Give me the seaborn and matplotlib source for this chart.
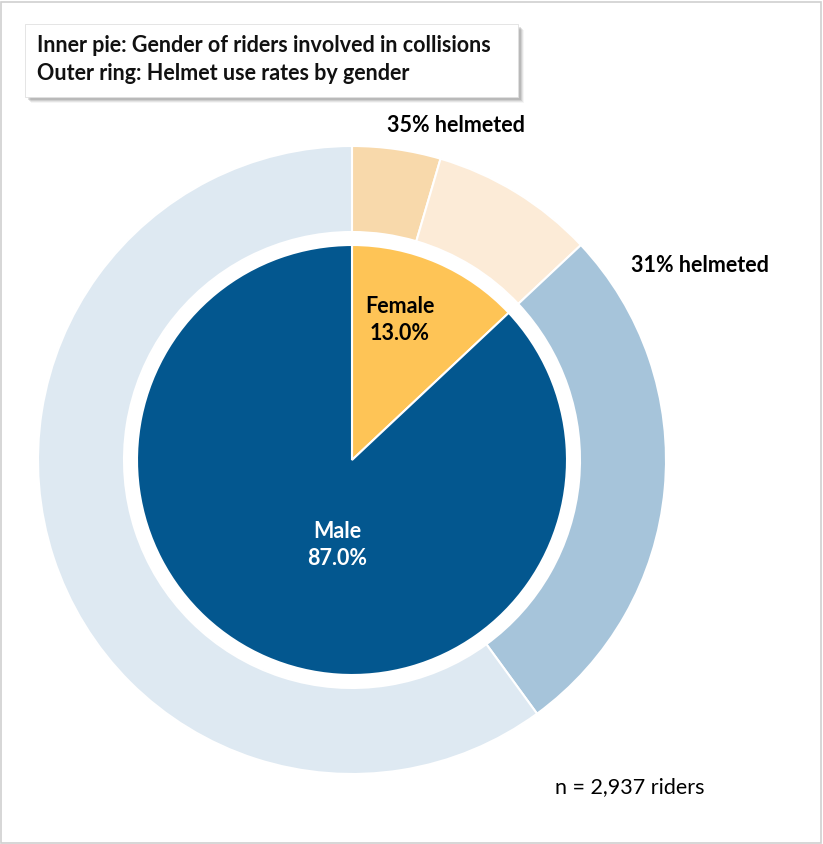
import matplotlib
matplotlib.use("Agg")
import matplotlib.pyplot as plt
import matplotlib.patches as mpatches
import seaborn as sns

# dane
genders = ["Female", "Male"]
gender_share = [13.0, 87.0]      # % of riders in collisions
helmet_rate = [35, 31]           # % helmeted within each gender
n_riders = 2937

inner_colors = ["#FEC456", "#03578F"]
outer_colors = ["#F8D9AB", "#FCEBD7", "#A6C4DA", "#DEE9F2"]

# outer ring: helmeted / not helmeted for each gender
outer_vals = []
for share, rate in zip(gender_share, helmet_rate):
    outer_vals.append(share * rate / 100)
    outer_vals.append(share * (100 - rate) / 100)

sns.set_theme(style="white")
plt.rcParams["font.family"] = ["Lato", "DejaVu Sans"]
fs = 15.5

fig = plt.figure(figsize=(8.23, 8.44), dpi=100)
ax = fig.add_axes([0, 0, 1, 1])
ax.axis("off")

cx, cy = 352, 844 - 460

# outer ring
ax.pie(outer_vals, colors=outer_colors, radius=314, center=(cx, cy),
       startangle=90, counterclock=False,
       wedgeprops=dict(width=314 - 228, edgecolor="white", linewidth=1.5))

# inner pie
ax.pie(gender_share, colors=inner_colors, radius=215, center=(cx, cy),
       startangle=90, counterclock=False,
       wedgeprops=dict(edgecolor="white", linewidth=1.5))
ax.set_xlim(0, 823)
ax.set_ylim(0, 844)
ax.set_aspect("equal")

# labels
ax.text(400, 844 - 320, f"{genders[0]}\n{gender_share[0]:.1f}%", ha="center", va="center",
        fontsize=fs, fontweight="bold", color="black", linespacing=1.3)
ax.text(337, 844 - 545, f"{genders[1]}\n{gender_share[1]:.1f}%", ha="center", va="center",
        fontsize=fs, fontweight="bold", color="white", linespacing=1.3)
ax.text(456, 844 - 126, f"{helmet_rate[0]}% helmeted", ha="center", va="center",
        fontsize=fs, fontweight="bold", color="black")
ax.text(700, 844 - 266, f"{helmet_rate[1]}% helmeted", ha="center", va="center",
        fontsize=fs, fontweight="bold", color="black")
ax.text(630, 844 - 787, f"n = {n_riders:,} riders", ha="center", va="center",
        fontsize=fs, color="black")

# legend box with shadow
bx0, by0, bx1, by1 = 25, 24, 518, 97
for off, a in [(6, 0.06), (5, 0.10), (4, 0.14), (3, 0.18)]:
    ax.add_patch(mpatches.Rectangle((bx0 + off, 844 - by1 - off), bx1 - bx0, by1 - by0,
                                    facecolor="#555555", alpha=a, edgecolor="none", zorder=5))
ax.add_patch(mpatches.Rectangle((bx0, 844 - by1), bx1 - bx0, by1 - by0,
                                facecolor="white", edgecolor="#e0e0e0", linewidth=0.6, zorder=6))
ax.text(37, 844 - 46, "Inner pie: Gender of riders involved in collisions", ha="left", va="center",
        fontsize=fs, fontweight="bold", color="#111111", zorder=7)
ax.text(37, 844 - 73, "Outer ring: Helmet use rates by gender", ha="left", va="center",
        fontsize=fs, fontweight="bold", color="#111111", zorder=7)

# frame around figure
fig.patches.append(mpatches.Rectangle((0.001, 0.001), 0.997, 0.997, transform=fig.transFigure,
                                      fill=False, edgecolor="#d0d0d0", linewidth=1.2))

fig.savefig("out.png", dpi=100)
